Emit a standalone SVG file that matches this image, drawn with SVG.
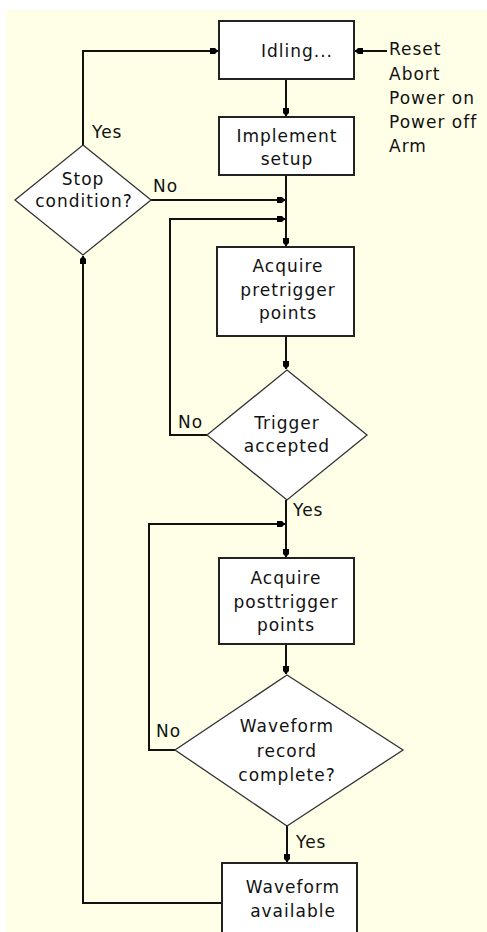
<svg xmlns="http://www.w3.org/2000/svg" width="487" height="932" viewBox="0 0 487 932">
<style>
.bg{fill:#FFFFE8}
.box{fill:#fff;stroke:#222;stroke-width:2}
.dia{fill:#fff;stroke:#333;stroke-width:1.3}
.ln{fill:none;stroke:#111;stroke-width:2}
text{font-family:"DejaVu Sans","Liberation Sans",sans-serif;font-size:17px;fill:#111;letter-spacing:1px}
.c{text-anchor:middle}
</style>
<defs>
<marker id="ah" viewBox="0 0 8 6" refX="8" refY="3" markerWidth="8" markerHeight="6" markerUnits="userSpaceOnUse" orient="auto">
<path d="M0,0 L5,0 L8,3 L5,6 L0,6 Z" fill="#000"/>
</marker>
</defs>
<rect x="0" y="0" width="487" height="932" fill="#fff"/>
<rect class="bg" x="6" y="10" width="481" height="922"/>
<g id="connectors">
<path class="ln" d="M387,51 H355" marker-end="url(#ah)"/>
<path class="ln" d="M286,79 V116" marker-end="url(#ah)"/>
<path class="ln" d="M286,175 V246" marker-end="url(#ah)"/>
<path class="ln" d="M83,145 V51 H218" marker-end="url(#ah)"/>
<path class="ln" d="M150,200 H285" marker-end="url(#ah)"/>
<path class="ln" d="M207,435 H170 V219 H285" marker-end="url(#ah)"/>
<path class="ln" d="M286,336 V369" marker-end="url(#ah)"/>
<path class="ln" d="M286,500 V557" marker-end="url(#ah)"/>
<path class="ln" d="M175,750 H149 V524 H285" marker-end="url(#ah)"/>
<path class="ln" d="M286,644 V674" marker-end="url(#ah)"/>
<path class="ln" d="M287,826 V862" marker-end="url(#ah)"/>
<path class="ln" d="M222,903 H83 V256" marker-end="url(#ah)"/>
</g>
<g id="idling">
<rect class="box" x="219" y="21" width="135" height="58"/>
<text x="297" y="57" class="c">Idling...</text>
</g>
<g id="inputs">
<text x="389" y="55">Reset</text>
<text x="389" y="80">Abort</text>
<text x="389" y="104">Power on</text>
<text x="389" y="128">Power off</text>
<text x="389" y="152">Arm</text>
</g>
<g id="setup">
<rect class="box" x="219" y="117" width="135" height="58"/>
<text x="287" y="142" class="c">Implement</text>
<text x="287" y="165" class="c">setup</text>
</g>
<g id="stop">
<polygon class="dia" points="83,145 151,200 83,255 15,200"/>
<text x="83" y="185" class="c">Stop</text>
<text x="84" y="207" class="c">condition?</text>
<text x="92" y="138">Yes</text>
<text x="153" y="192">No</text>
</g>
<g id="pretrigger">
<rect class="box" x="217" y="247" width="137" height="89"/>
<text x="288" y="272" class="c">Acquire</text>
<text x="288" y="296" class="c">pretrigger</text>
<text x="288" y="319" class="c">points</text>
</g>
<g id="trigger">
<polygon class="dia" points="287,370 367,435 287,500 207,435"/>
<text x="287" y="429" class="c">Trigger</text>
<text x="287" y="452" class="c">accepted</text>
<text x="178" y="428">No</text>
<text x="293" y="516">Yes</text>
</g>
<g id="posttrigger">
<rect class="box" x="219" y="558" width="135" height="86"/>
<text x="286" y="584" class="c">Acquire</text>
<text x="286" y="608" class="c">posttrigger</text>
<text x="286" y="631" class="c">points</text>
</g>
<g id="complete">
<polygon class="dia" points="287,675 403,750 287,826 175,750"/>
<text x="287" y="732" class="c">Waveform</text>
<text x="287" y="757" class="c">record</text>
<text x="287" y="781" class="c">complete?</text>
<text x="156" y="737">No</text>
<text x="296" y="848">Yes</text>
</g>
<g id="available">
<rect class="box" x="222" y="863" width="135" height="80"/>
<text x="293" y="893" class="c">Waveform</text>
<text x="293" y="917" class="c">available</text>
</g>
</svg>
